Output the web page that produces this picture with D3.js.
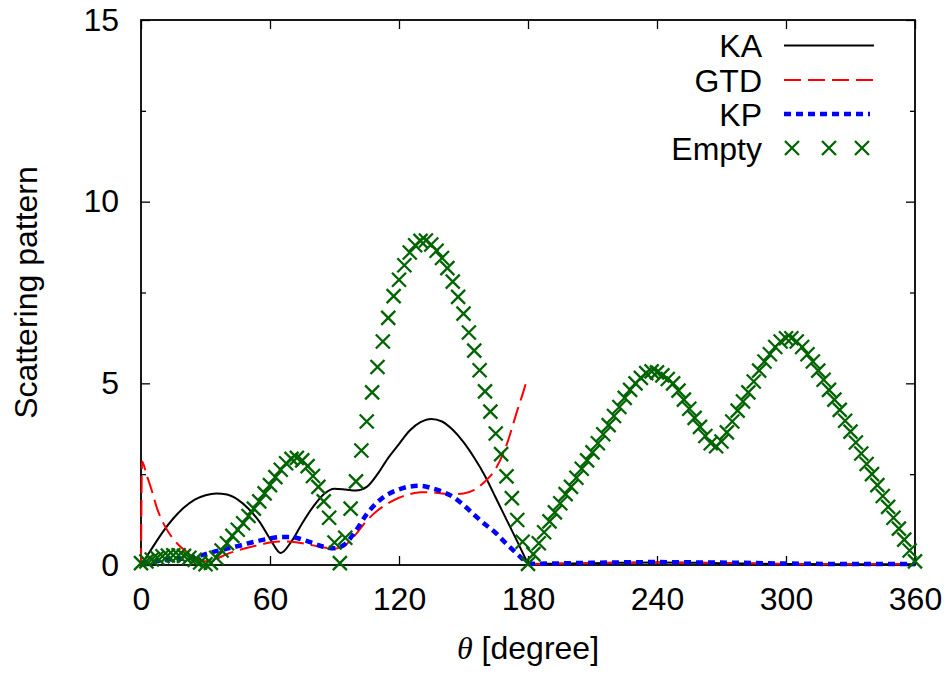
<!DOCTYPE html>
<html>
<head>
<meta charset="utf-8">
<script src="https://cdn.jsdelivr.net/npm/d3@7"></script>
<style>
body { margin: 0; background: #fff; }
text { font-family: "Liberation Sans", Arial, sans-serif; }
</style>
</head>
<body>
<div id="chart"></div>
<script>
// angle grid of the computed curves, 0..180 every 5 degrees
const lineTheta = [0, 5, 10, 15, 20, 25, 30, 35, 40, 45, 50, 55, 60, 65, 70, 75, 80, 85, 90,
    95, 100, 105, 110, 115, 120, 125, 130, 135, 140, 145, 150, 155, 160, 165, 170, 175, 180];
// the shadow side, 180..360
const tailTheta = [180, 200, 220, 240, 260, 280, 300, 320, 340, 360];

const kaValues = [0, 0.45, 0.9, 1.28, 1.58, 1.8, 1.92, 1.97, 1.94, 1.8, 1.55, 1.2, 0.72, 0.33, 0.65,
    1.15, 1.6, 1.95, 2.1, 2.08, 2.05, 2.15, 2.5, 2.95, 3.33, 3.7, 3.93, 4.02, 3.95, 3.72, 3.38,
    2.95, 2.45, 1.85, 1.25, 0.65, 0.03];
const kaTail = [0.03, 0.04, 0.06, 0.07, 0.06, 0.04, 0.03, 0.02, 0.02, 0.02];

const gtdTheta = [0, 0.5, 2.5, 5, 7.5, 10, 12.5, 15, 17.5, 20, 25, 30, 35, 40, 45, 50, 55, 60, 65,
    70, 75, 80, 85, 90, 95, 100, 105, 110, 115, 120, 125, 130, 135, 140, 145, 150, 155, 160,
    165, 170, 175, 178, 179.5];
const gtdValues = [0, 2.85, 2.5, 2.05, 1.55, 1.2, 0.93, 0.72, 0.55, 0.42, 0.22, 0.1, 0.17, 0.3,
    0.4, 0.48, 0.55, 0.62, 0.65, 0.64, 0.6, 0.54, 0.48, 0.45, 0.55, 0.85, 1.22, 1.5, 1.7, 1.85,
    1.95, 2.0, 2.0, 1.97, 1.95, 1.97, 2.07, 2.3, 2.65, 3.3, 4.25, 4.8, 5.1];
const gtdTail = [0.02, 0.04, 0.06, 0.07, 0.06, 0.05, 0.03, 0.02, 0.02, 0.02];

const kpValues = [0.02, 0.08, 0.13, 0.16, 0.18, 0.22, 0.3, 0.38, 0.45, 0.52, 0.6, 0.67, 0.73,
    0.77, 0.77, 0.7, 0.6, 0.5, 0.46, 0.58, 0.95, 1.4, 1.73, 1.95, 2.08, 2.16, 2.18, 2.12, 2.02,
    1.88, 1.65, 1.38, 1.12, 0.88, 0.58, 0.3, 0.03];
const kpTail = [0.03, 0.05, 0.07, 0.08, 0.07, 0.06, 0.04, 0.03, 0.03, 0.03];

// empty (no object) pattern, one value every 2.5 degrees from 0 to 360
const emptyStep = 2.5;
const emptyValues = [
    0.05, 0.1, 0.15, 0.2, 0.24, 0.26, 0.27, 0.27, 0.25, 0.2, 0.14, 0.07,
    0.02, 0.06, 0.2, 0.4, 0.6, 0.8, 0.97, 1.15, 1.35, 1.55, 1.75, 1.97,
    2.2, 2.42, 2.62, 2.8, 2.92, 2.95, 2.88, 2.72, 2.45, 2.15, 1.75, 1.3,
    0.62, 0.05, 0.75, 1.55, 2.3, 3.15, 3.95, 4.75, 5.45, 6.15, 6.8, 7.4,
    7.85, 8.25, 8.6, 8.8, 8.92, 8.93, 8.82, 8.65, 8.45, 8.17, 7.8, 7.38,
    6.92, 6.4, 5.9, 5.36, 4.78, 4.22, 3.62, 3.05, 2.44, 1.84, 1.24, 0.64,
    0.03, 0.3, 0.6, 0.9, 1.2, 1.45, 1.7, 1.95, 2.15, 2.4, 2.65, 2.88,
    3.1, 3.35, 3.6, 3.85, 4.1, 4.35, 4.6, 4.82, 5.0, 5.15, 5.28, 5.33,
    5.3, 5.22, 5.12, 5.0, 4.8, 4.55, 4.3, 4.05, 3.8, 3.55, 3.35, 3.27,
    3.4, 3.65, 3.95, 4.25, 4.5, 4.75, 5.05, 5.35, 5.6, 5.8, 6.0, 6.15,
    6.24, 6.24, 6.15, 6.0, 5.8, 5.6, 5.35, 5.1, 4.82, 4.55, 4.27, 3.97,
    3.67, 3.37, 3.07, 2.78, 2.5, 2.2, 1.9, 1.6, 1.3, 1.0, 0.7, 0.4,
    0.1];

const xTicks = [0, 60, 120, 180, 240, 300, 360];
const yTicks = [0, 5, 10, 15];
const yMinorTicks = [2.5, 7.5, 12.5];

const renderChart = () => {
    const w = 952;
    const h = 675;
    const left = 141, right = 915, top = 20, bottom = 565;

    const xScale = d3.scaleLinear().domain([0, 360]).range([left, right]);
    const yScale = d3.scaleLinear().domain([0, 15]).range([bottom, top]);

    const svg = d3.select("#chart")
        .append("svg")
        .attr("width", w)
        .attr("height", h);

    const styleAxis = (g) => {
        g.select(".domain").remove();
        g.selectAll(".tick line").attr("stroke", "#000").attr("stroke-width", 1.3);
        g.selectAll(".tick text")
            .attr("fill", "#000")
            .style("font-family", '"Liberation Sans", Arial, sans-serif')
            .style("font-size", "32px");
    };

    svg.append("g")
        .attr("transform", "translate(0," + bottom + ")")
        .call(d3.axisBottom(xScale).tickValues(xTicks).tickSizeInner(-9).tickSizeOuter(0).tickPadding(22))
        .call(styleAxis);
    svg.append("g")
        .attr("transform", "translate(0," + top + ")")
        .call(d3.axisTop(xScale).tickValues(xTicks).tickSizeInner(-9).tickSizeOuter(0).tickFormat(""))
        .call(styleAxis);
    svg.append("g")
        .attr("transform", "translate(" + left + ",0)")
        .call(d3.axisLeft(yScale).tickValues(yTicks).tickSizeInner(-9).tickSizeOuter(0).tickPadding(22).tickFormat(d3.format("d")))
        .call(styleAxis);
    svg.append("g")
        .attr("transform", "translate(" + left + ",0)")
        .call(d3.axisLeft(yScale).tickValues(yMinorTicks).tickSizeInner(-5).tickSizeOuter(0).tickFormat(""))
        .call(styleAxis);
    svg.append("g")
        .attr("transform", "translate(" + right + ",0)")
        .call(d3.axisRight(yScale).tickValues(yTicks).tickSizeInner(-9).tickSizeOuter(0).tickFormat(""))
        .call(styleAxis);
    svg.append("g")
        .attr("transform", "translate(" + right + ",0)")
        .call(d3.axisRight(yScale).tickValues(yMinorTicks).tickSizeInner(-5).tickSizeOuter(0).tickFormat(""))
        .call(styleAxis);

    svg.append("rect")
        .attr("x", left).attr("y", top)
        .attr("width", right - left).attr("height", bottom - top)
        .attr("fill", "none").attr("stroke", "#000").attr("stroke-width", 1.8);

    // axis titles
    const xLabel = svg.append("text")
        .attr("x", (left + right) / 2).attr("y", 659)
        .attr("text-anchor", "middle")
        .style("font-size", "32px");
    xLabel.append("tspan")
        .style("font-family", '"Liberation Serif", "DejaVu Serif", serif')
        .style("font-style", "italic")
        .text("θ");
    xLabel.append("tspan").text(" [degree]");

    svg.append("text")
        .attr("transform", "translate(37," + (top + bottom) / 2 + ") rotate(-90)")
        .attr("text-anchor", "middle")
        .style("font-size", "32px")
        .text("Scattering pattern");

    const line = d3.line()
        .x(d => xScale(d[0]))
        .y(d => yScale(d[1]))
        .curve(d3.curveMonotoneX);

    const pairs = (xs, ys) => xs.map((x, i) => [x, ys[i]]);

    const series = [
        { name: "KA", color: "#000", width: 2, dash: null,
          parts: [pairs(lineTheta, kaValues), pairs(tailTheta, kaTail)] },
        { name: "GTD", color: "#ff0000", width: 2, dash: "17,7",
          parts: [pairs(gtdTheta, gtdValues), pairs(tailTheta, gtdTail)] },
        { name: "KP", color: "#0000ff", width: 4.5, dash: "7,5",
          parts: [pairs(lineTheta, kpValues), pairs(tailTheta, kpTail)] }
    ];

    series.forEach(s => {
        svg.append("g")
            .selectAll("path")
            .data(s.parts)
            .enter()
            .append("path")
            .attr("d", line)
            .attr("fill", "none")
            .attr("stroke", s.color)
            .attr("stroke-width", s.width)
            .attr("stroke-dasharray", s.dash);
    });

    const green = "#006400";
    const crossSize = 7;
    const crossPath = (cx, cy) =>
        "M" + (cx - crossSize) + "," + (cy - crossSize) + "L" + (cx + crossSize) + "," + (cy + crossSize) +
        "M" + (cx - crossSize) + "," + (cy + crossSize) + "L" + (cx + crossSize) + "," + (cy - crossSize);

    svg.append("g")
        .selectAll("path")
        .data(emptyValues)
        .enter()
        .append("path")
        .attr("d", (d, i) => crossPath(xScale(i * emptyStep), yScale(d)))
        .attr("fill", "none")
        .attr("stroke", green)
        .attr("stroke-width", 2.3);

    // key
    const keyRows = [45.5, 80, 114, 148];
    const keyX0 = 784, keyX1 = 874;
    series.forEach((s, i) => {
        svg.append("text")
            .attr("x", 762).attr("y", keyRows[i] + 11.5)
            .attr("text-anchor", "end")
            .style("font-size", "32px")
            .text(s.name);
        svg.append("line")
            .attr("x1", keyX0).attr("x2", s.name === "KP" ? 870 : keyX1)
            .attr("y1", keyRows[i]).attr("y2", keyRows[i])
            .attr("stroke", s.color)
            .attr("stroke-width", s.width)
            .attr("stroke-dasharray", s.dash);
    });
    svg.append("text")
        .attr("x", 762).attr("y", keyRows[3] + 11.5)
        .attr("text-anchor", "end")
        .style("font-size", "32px")
        .text("Empty");
    svg.append("g")
        .selectAll("path")
        .data([792, 829, 862])
        .enter()
        .append("path")
        .attr("d", d => crossPath(d, keyRows[3]))
        .attr("fill", "none")
        .attr("stroke", green)
        .attr("stroke-width", 2.3);
}

renderChart();
</script>
</body>
</html>
